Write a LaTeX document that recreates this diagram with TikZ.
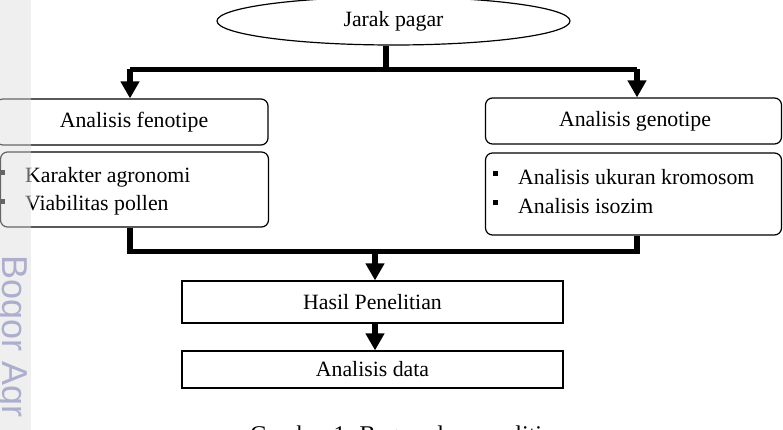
\documentclass[tikz,border=0pt]{standalone}
\usepackage{fontspec}
\setmainfont{Liberation Serif}
\newfontfamily\wmfont{Liberation Sans}
\usetikzlibrary{shapes.geometric,arrows.meta}
\definecolor{wmcol}{RGB}{172,174,206}
\definecolor{stripcol}{RGB}{222,222,222}
\tikzset{
  lbl/.style={font=\fontsize{21.8}{26}\selectfont, inner sep=0pt},
  rbox/.style={draw=black, line width=1.2pt, rounded corners=7pt, inner sep=0pt},
  sbox/.style={draw=black, line width=1.2pt, inner sep=0pt},
  conn/.style={line width=5.5pt, line join=miter},
  arr/.style={conn, -{Triangle[length=17pt,width=18pt]}},
  bul/.style={fill=black, minimum size=5pt, inner sep=0pt, draw=none}
}
\begin{document}
\begin{tikzpicture}[x=1pt,y=-1pt]
\useasboundingbox (0,0) rectangle (783,430);
\clip (0,0) rectangle (783,430);
\fill[white] (0,0) rectangle (783,430);

% top ellipse
\node[ellipse, draw=black, line width=1.2pt, minimum width=353pt, minimum height=48pt, inner sep=0pt, lbl] (jp) at (393.5,21) {Jarak pagar};

% boxes
\node[rbox, minimum width=272pt, minimum height=46pt] (fen) at (132,122) {};
\node[lbl] (fent) at (134,122) {Analisis fenotipe};
\node[rbox, minimum width=268pt, minimum height=75pt] (fi) at (134.5,189.5) {};
\node[rbox, minimum width=296pt, minimum height=46pt] (gen) at (633.5,121) {};
\node[lbl] (gent) at (635,121) {Analisis genotipe};
\node[rbox, minimum width=296pt, minimum height=82pt] (gi) at (633.5,194) {};
\node[sbox, minimum width=381pt, minimum height=42pt, lbl] (hp) at (372.5,302) {Hasil Penelitian};
\node[sbox, minimum width=381pt, minimum height=37pt, lbl] (ad) at (372.5,369.5) {Analisis data};

% item texts
\node[lbl, anchor=base west] (k1) at (25,183) {Karakter agronomi};
\node[lbl, anchor=base west] (k2) at (25,211) {Viabilitas pollen};
\node[bul] (b1) at (2.5,173) {};
\node[bul] (b2) at (2.5,202) {};
\node[lbl, anchor=base west] (g1) at (518,185) {Analisis ukuran kromosom};
\node[lbl, anchor=base west] (g2) at (518,213) {Analisis isozim};
\node[bul] (b3) at (495.5,174) {};
\node[bul] (b4) at (495.5,203) {};

% connectors top
\coordinate (stem) at (386,69.5);
\coordinate (tl) at (130,69.5);
\coordinate (tr) at (637,69.5);
\draw[conn] (jp.south -| stem) -- (stem);
\draw[conn] (tl) -- (tr);
\draw[arr] (tl) -- (tl |- fen.north);
\draw[arr] (tr) -- (tr |- gen.north);

% connectors bottom
\coordinate (bl) at (130,251.5);
\coordinate (br) at (637,251.5);
\coordinate (bm) at (375,251.5);
\draw[conn] (bl |- fi.south) -- (bl) -- (br) -- (br |- gi.south);
\draw[arr] (bm) -- (bm |- hp.north);
\draw[arr] (bm |- hp.south) -- (bm |- ad.north);

% caption (cut by page edge)
\node[font=\fontsize{24}{28}\selectfont, inner sep=0pt, anchor=base west] (cap) at (250,442) {Gambar 1. Bagan alur penelitian};

% watermark strip
\fill[stripcol, opacity=0.46] (0,0) rectangle (31,430);
\node[font=\wmfont\fontsize{36}{40}\selectfont, text=wmcol, rotate=-90, anchor=base west, inner sep=0pt] (wm) at (2.5,255) {Bogor Agr};
\end{tikzpicture}
\end{document}
